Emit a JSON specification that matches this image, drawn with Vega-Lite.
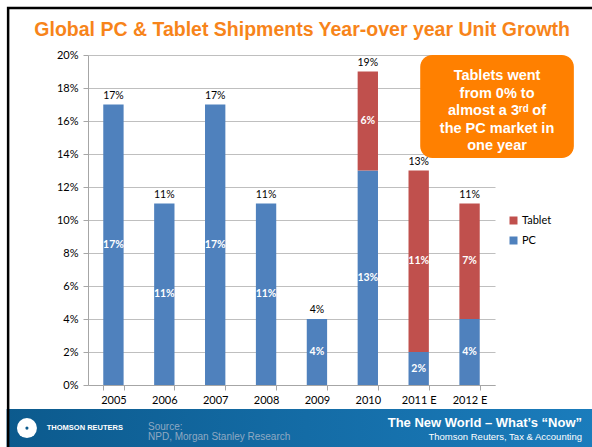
{
  "$schema": "https://vega.github.io/schema/vega-lite/v6.json",
  "width": 407,
  "height": 330,
  "autosize": {"type": "none"},
  "padding": {"left": 88, "top": 55, "right": 97, "bottom": 62},
  "background": "white",
  "config": {"view": {"stroke": null}, "font": "Lato"},
  "datasets": {
    "shipments": [
      {"year": "2005", "type": "PC", "value": 0.17},
      {"year": "2006", "type": "PC", "value": 0.11},
      {"year": "2007", "type": "PC", "value": 0.17},
      {"year": "2008", "type": "PC", "value": 0.11},
      {"year": "2009", "type": "PC", "value": 0.04},
      {"year": "2010", "type": "PC", "value": 0.13},
      {"year": "2010", "type": "Tablet", "value": 0.06},
      {"year": "2011 E", "type": "PC", "value": 0.02},
      {"year": "2011 E", "type": "Tablet", "value": 0.11},
      {"year": "2012 E", "type": "PC", "value": 0.04},
      {"year": "2012 E", "type": "Tablet", "value": 0.07}
    ]
  },
  "resolve": {"scale": {"x": "independent", "y": "independent"}},
  "layer": [
    {
      "data": {"values": [{}]},
      "mark": {
        "type": "rect",
        "fill": {
          "gradient": "linear", "x1": 0, "y1": 0, "x2": 1, "y2": 0,
          "stops": [
            {"offset": 0, "color": "#0c5a8d"},
            {"offset": 0.5, "color": "#146ca6"},
            {"offset": 1, "color": "#1b7dbd"}
          ]
        }
      },
      "encoding": {
        "x": {"datum": -1.6, "type": "quantitative", "scale": {"domain": [0, 8], "nice": false, "zero": false}, "axis": null},
        "x2": {"datum": 10.2},
        "y": {"datum": -0.0145, "type": "quantitative", "scale": {"domain": [0, 0.2], "nice": false, "zero": false}, "axis": null},
        "y2": {"datum": -0.045}
      }
    },
    {
      "layer": [
        {
          "data": {"name": "shipments"},
          "mark": {"type": "bar"},
          "encoding": {
            "x": {
              "field": "year", "type": "nominal",
              "scale": {"domain": ["2005", "2006", "2007", "2008", "2009", "2010", "2011 E", "2012 E"], "paddingInner": 0.6, "paddingOuter": 0.3},
              "axis": {
                "title": null, "labelAngle": 0, "labelFont": "Lato", "labelFontSize": 11, "labelColor": "#000",
                "domainColor": "#A6A6A6", "tickColor": "#A6A6A6", "tickSize": 5, "tickBand": "extent",
                "labelPadding": 4, "grid": false
              }
            },
            "y": {
              "field": "value", "type": "quantitative", "stack": "zero",
              "scale": {"domain": [0, 0.2], "nice": false},
              "axis": {
                "title": null, "format": ".0%", "values": [0, 0.02, 0.04, 0.06, 0.08, 0.1, 0.12, 0.14, 0.16, 0.18, 0.2],
                "tickCount": 30, "labelOverlap": false,
                "labelFont": "Lato", "labelFontSize": 11, "labelColor": "#000",
                "domainColor": "#A6A6A6", "tickColor": "#A6A6A6", "tickSize": 5, "labelPadding": 5,
                "grid": true, "gridColor": "#BFBFBF"
              }
            },
            "color": {
              "field": "type", "type": "nominal",
              "scale": {"domain": ["Tablet", "PC"], "range": ["#C0504D", "#4F81BD"]},
              "legend": {
                "title": null, "orient": "none", "legendX": 420, "legendY": 160, "padding": 0,
                "symbolType": "square", "symbolSize": 64, "symbolStrokeWidth": 0,
                "labelFont": "Lato", "labelFontSize": 11, "labelColor": "#000", "labelOffset": 3, "rowPadding": 8
              }
            },
            "order": {"field": "type", "sort": "ascending"}
          }
        },
        {
          "data": {"name": "shipments"},
          "transform": [
            {"stack": "value", "groupby": ["year"], "sort": [{"field": "type", "order": "ascending"}], "as": ["y0", "y1"]},
            {"fold": ["y0", "y1"], "as": ["edge", "pos"]}
          ],
          "mark": {"type": "text", "color": "white", "fontWeight": "bold", "fontSize": 10.5, "font": "Lato", "baseline": "middle"},
          "encoding": {
            "x": {"field": "year", "type": "nominal"},
            "y": {
              "field": "pos", "type": "quantitative", "aggregate": "mean",
              "axis": {
                "title": null, "format": ".0%", "values": [0, 0.02, 0.04, 0.06, 0.08, 0.1, 0.12, 0.14, 0.16, 0.18, 0.2],
                "tickCount": 30, "labelOverlap": false,
                "labelFont": "Lato", "labelFontSize": 11, "labelColor": "#000",
                "domainColor": "#A6A6A6", "tickColor": "#A6A6A6", "tickSize": 5, "labelPadding": 5,
                "grid": true, "gridColor": "#BFBFBF"
              }
            },
            "detail": {"field": "type"},
            "text": {"field": "value", "type": "quantitative", "format": ".0%"}
          }
        },
        {
          "data": {"name": "shipments"},
          "mark": {"type": "text", "color": "#000", "fontSize": 10.5, "font": "Lato", "baseline": "middle", "dy": -9},
          "encoding": {
            "x": {"field": "year", "type": "nominal"},
            "y": {
              "field": "value", "type": "quantitative", "aggregate": "sum",
              "axis": {
                "title": null, "format": ".0%", "values": [0, 0.02, 0.04, 0.06, 0.08, 0.1, 0.12, 0.14, 0.16, 0.18, 0.2],
                "tickCount": 30, "labelOverlap": false,
                "labelFont": "Lato", "labelFontSize": 11, "labelColor": "#000",
                "domainColor": "#A6A6A6", "tickColor": "#A6A6A6", "tickSize": 5, "labelPadding": 5,
                "grid": true, "gridColor": "#BFBFBF"
              }
            },
            "text": {"field": "value", "type": "quantitative", "aggregate": "sum", "format": ".0%"}
          }
        }
      ]
    },
    {
      "data": {"values": [{}]},
      "mark": {"type": "text", "font": "Liberation Sans", "fontWeight": "bold", "fontSize": 19.5, "color": "#F7841A", "align": "center", "baseline": "middle"},
      "encoding": {
        "x": {"datum": 4.21, "type": "quantitative", "scale": {"domain": [0, 8], "nice": false, "zero": false}, "axis": null},
        "y": {"datum": 0.2152, "type": "quantitative", "scale": {"domain": [0, 0.2], "nice": false, "zero": false}, "axis": null},
        "text": {"value": "Global PC & Tablet Shipments Year-over year Unit Growth"}
      }
    },
    {
      "data": {"values": [{}]},
      "mark": {"type": "rect", "fill": "#FF8000", "cornerRadius": 12},
      "encoding": {
        "x": {"datum": 6.53, "type": "quantitative", "scale": {"domain": [0, 8], "nice": false, "zero": false}, "axis": null},
        "x2": {"datum": 9.55},
        "y": {"datum": 0.2, "type": "quantitative", "scale": {"domain": [0, 0.2], "nice": false, "zero": false}, "axis": null},
        "y2": {"datum": 0.1376}
      }
    },
    {
      "data": {"values": [{}]},
      "mark": {"type": "text", "lineBreak": "\n", "font": "Liberation Sans", "fontWeight": "bold", "fontSize": 14.5, "color": "white", "lineHeight": 17.6, "align": "center", "baseline": "middle"},
      "encoding": {
        "x": {"datum": 8.04, "type": "quantitative", "scale": {"domain": [0, 8], "nice": false, "zero": false}, "axis": null},
        "y": {"datum": 0.1873, "type": "quantitative", "scale": {"domain": [0, 0.2], "nice": false, "zero": false}, "axis": null},
        "text": {"value": "Tablets went\nfrom 0% to\nalmost a 3ʳᵈ of\nthe PC market in\none year"}
      }
    },
    {
      "data": {"values": [{}]},
      "mark": {"type": "text", "font": "Liberation Sans", "fontWeight": "bold", "fontSize": 13, "color": "white", "align": "right", "baseline": "middle"},
      "encoding": {
        "x": {"datum": 9.71, "type": "quantitative", "scale": {"domain": [0, 8], "nice": false, "zero": false}, "axis": null},
        "y": {"datum": -0.0230, "type": "quantitative", "scale": {"domain": [0, 0.2], "nice": false, "zero": false}, "axis": null},
        "text": {"value": "The New World – What’s “Now”"}
      }
    },
    {
      "data": {"values": [{}]},
      "mark": {"type": "text", "font": "Liberation Sans", "fontSize": 9.5, "color": "white", "align": "right", "baseline": "middle"},
      "encoding": {
        "x": {"datum": 9.71, "type": "quantitative", "scale": {"domain": [0, 8], "nice": false, "zero": false}, "axis": null},
        "y": {"datum": -0.0315, "type": "quantitative", "scale": {"domain": [0, 0.2], "nice": false, "zero": false}, "axis": null},
        "text": {"value": "Thomson Reuters, Tax & Accounting"}
      }
    },
    {
      "data": {"values": [{}]},
      "mark": {"type": "text", "font": "Liberation Sans", "fontSize": 10, "color": "#8FA9C2", "align": "left", "baseline": "middle"},
      "encoding": {
        "x": {"datum": 1.18, "type": "quantitative", "scale": {"domain": [0, 8], "nice": false, "zero": false}, "axis": null},
        "y": {"datum": -0.0255, "type": "quantitative", "scale": {"domain": [0, 0.2], "nice": false, "zero": false}, "axis": null},
        "text": {"value": "Source:"}
      }
    },
    {
      "data": {"values": [{}]},
      "mark": {"type": "text", "font": "Liberation Sans", "fontSize": 10, "color": "#8FA9C2", "align": "left", "baseline": "middle"},
      "encoding": {
        "x": {"datum": 1.18, "type": "quantitative", "scale": {"domain": [0, 8], "nice": false, "zero": false}, "axis": null},
        "y": {"datum": -0.0315, "type": "quantitative", "scale": {"domain": [0, 0.2], "nice": false, "zero": false}, "axis": null},
        "text": {"value": "NPD, Morgan Stanley Research"}
      }
    },
    {
      "data": {"values": [{}]},
      "mark": {"type": "point", "shape": "circle", "filled": true, "color": "white", "size": 400, "opacity": 1},
      "encoding": {
        "x": {"datum": -1.2, "type": "quantitative", "scale": {"domain": [0, 8], "nice": false, "zero": false}, "axis": null},
        "y": {"datum": -0.0261, "type": "quantitative", "scale": {"domain": [0, 0.2], "nice": false, "zero": false}, "axis": null}
      }
    },
    {
      "data": {"values": [{}]},
      "mark": {"type": "point", "shape": "circle", "filled": true, "color": "#0c5a8d", "size": 10, "opacity": 1},
      "encoding": {
        "x": {"datum": -1.2, "type": "quantitative", "scale": {"domain": [0, 8], "nice": false, "zero": false}, "axis": null},
        "y": {"datum": -0.0261, "type": "quantitative", "scale": {"domain": [0, 0.2], "nice": false, "zero": false}, "axis": null}
      }
    },
    {
      "data": {"values": [{}]},
      "mark": {"type": "text", "font": "Liberation Sans", "fontWeight": "bold", "fontSize": 7.5, "color": "white", "align": "left", "baseline": "middle"},
      "encoding": {
        "x": {"datum": -0.81, "type": "quantitative", "scale": {"domain": [0, 8], "nice": false, "zero": false}, "axis": null},
        "y": {"datum": -0.0261, "type": "quantitative", "scale": {"domain": [0, 0.2], "nice": false, "zero": false}, "axis": null},
        "text": {"value": "THOMSON REUTERS"}
      }
    },
    {
      "data": {"values": [{}]},
      "mark": {"type": "rect", "filled": false, "stroke": "#000", "strokeWidth": 2.5},
      "encoding": {
        "x": {"datum": -1.57, "type": "quantitative", "scale": {"domain": [0, 8], "nice": false, "zero": false}, "axis": null},
        "x2": {"datum": 11},
        "y": {"datum": 0.2285, "type": "quantitative", "scale": {"domain": [0, 0.2], "nice": false, "zero": false}, "axis": null},
        "y2": {"datum": -0.06}
      }
    }
  ]
}
